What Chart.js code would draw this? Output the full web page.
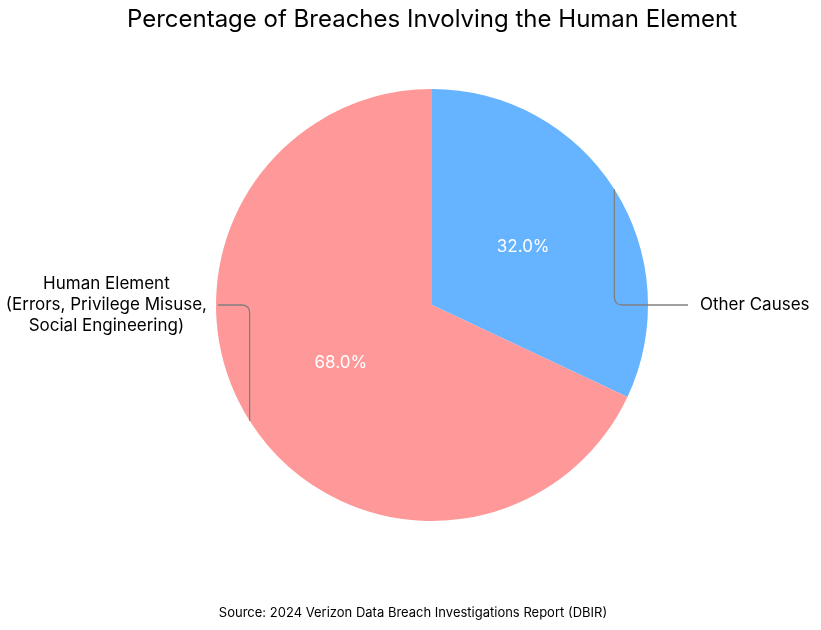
<!DOCTYPE html>
<html>
<head>
<meta charset="utf-8">
<script src="https://cdn.jsdelivr.net/npm/chart.js@4/dist/chart.umd.min.js"></script>
<style>
    html, body { margin: 0; padding: 0; background: #fff; }
    #wrap { width: 821px; height: 630px; position: relative; }
</style>
</head>
<body>
<div id="wrap"><canvas id="myChart"></canvas></div>
<script>
const categories = ["Other Causes", "Human Element\n(Errors, Privilege Misuse,\nSocial Engineering)"];
const shares = [32.0, 68.0];
const sliceColors = ["#66b3ff", "#ff9999"];
const titleText = "Percentage of Breaches Involving the Human Element";
const sourceText = "Source: 2024 Verizon Data Breach Investigations Report (DBIR)";

const fontFamily = "Inter, 'Noto Sans', sans-serif";

// leader lines, outside labels, percent labels, title and source
const labelPlugin = {
    id: "pieLabels",
    afterDraw(chart) {
        const ctx = chart.ctx;
        const meta = chart.getDatasetMeta(0);
        const total = shares.reduce((a, b) => a + b, 0);

        ctx.save();
        meta.data.forEach((arc, i) => {
            const { x, y, outerRadius, startAngle, endAngle } = arc.getProps(["x", "y", "outerRadius", "startAngle", "endAngle"], true);
            const mid = (startAngle + endAngle) / 2;
            const px = x + Math.cos(mid) * outerRadius;
            const py = y + Math.sin(mid) * outerRadius;
            const right = Math.cos(mid) >= 0;
            const endX = right ? x + outerRadius + 40 : x - outerRadius + 2;
            const rc = 8;
            const dirY = py < y ? 1 : -1;
            const dirX = right ? 1 : -1;

            // connector
            ctx.strokeStyle = "#808080";
            ctx.lineWidth = 1.3;
            ctx.beginPath();
            ctx.moveTo(px, py);
            ctx.lineTo(px, y - dirY * rc);
            ctx.quadraticCurveTo(px, y, px + dirX * rc, y);
            ctx.lineTo(endX, y);
            ctx.stroke();

            // outside label
            ctx.fillStyle = "#000";
            ctx.font = "17px " + fontFamily;
            ctx.textBaseline = "middle";
            const lines = categories[i].split("\n");
            const lh = 21;
            const y0 = y - (lines.length - 1) * lh / 2;
            if (right) {
                ctx.textAlign = "left";
                lines.forEach((l, k) => ctx.fillText(l, endX + 12, y0 + k * lh));
            } else {
                ctx.textAlign = "center";
                const w = Math.max(...lines.map(l => ctx.measureText(l).width));
                const cxText = endX - 11 - w / 2;
                lines.forEach((l, k) => ctx.fillText(l, cxText, y0 + k * lh));
            }

            // percentage inside slice
            const c = arc.getCenterPoint();
            ctx.fillStyle = "#fff";
            ctx.textAlign = "center";
            ctx.font = "17px " + fontFamily;
            ctx.fillText((shares[i] / total * 100).toFixed(1) + "%", c.x, c.y);
        });

        ctx.fillStyle = "#000";
        ctx.textAlign = "center";
        ctx.textBaseline = "middle";
        ctx.font = "24px " + fontFamily;
        ctx.fillText(titleText, 432, 20);
        ctx.font = "13px " + fontFamily;
        ctx.fillText(sourceText, 413, 613);
        ctx.restore();
    },
};

const myChart = document.getElementById("myChart");

new Chart(myChart, {
    type: "pie",
    data: {
        labels: categories,
        datasets: [
            {
                data: shares,
                backgroundColor: sliceColors,
                borderWidth: 0,
            },
        ],
    },
    options: {
        responsive: true,
        maintainAspectRatio: false,
        animation: false,
        layout: {
            padding: { top: 89, bottom: 109, left: 216, right: 173 },
        },
        plugins: {
            legend: { display: false },
            tooltip: { enabled: false },
        },
    },
    plugins: [labelPlugin],
});
</script>
</body>
</html>
